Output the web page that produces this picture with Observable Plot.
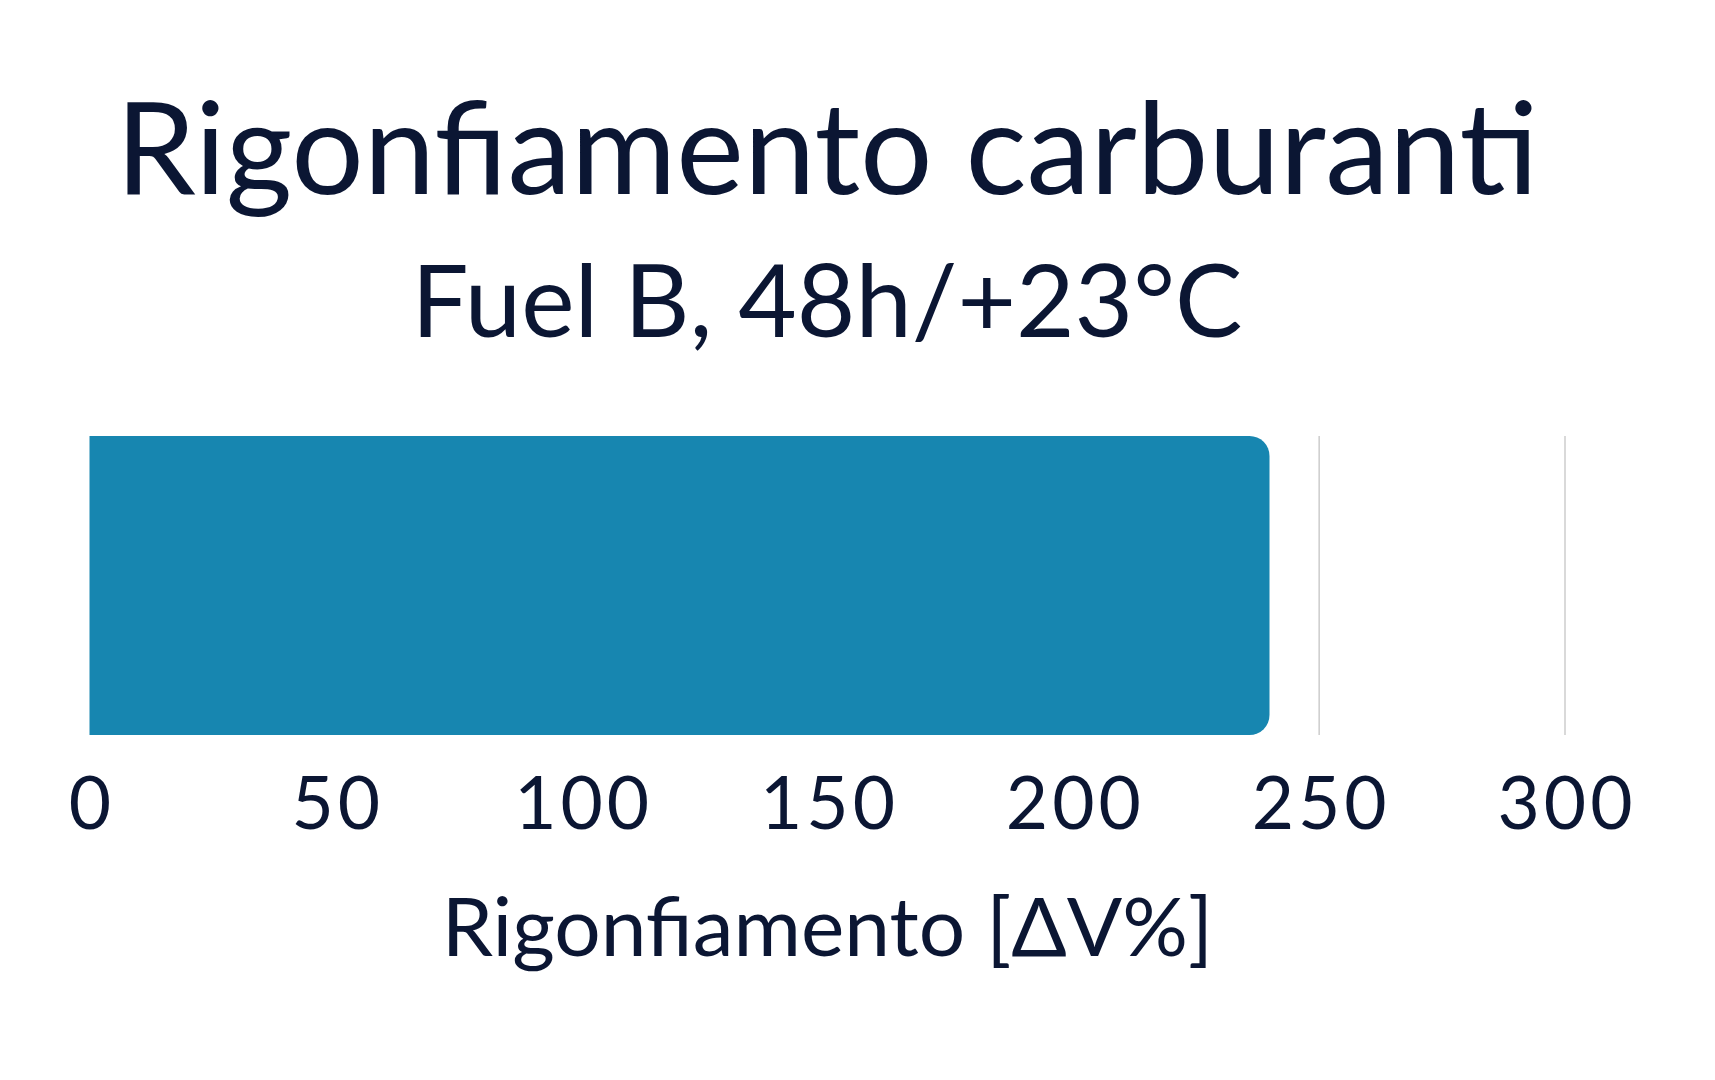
<!DOCTYPE html>
<html><head><meta charset="utf-8">
<script src="https://cdn.jsdelivr.net/npm/d3@7"></script>
<script src="https://cdn.jsdelivr.net/npm/@observablehq/plot@0.6"></script>
<style>
html,body{margin:0;padding:0;background:#fff;}
body{width:1715px;height:1080px;position:relative;overflow:hidden;font-family:Lato,sans-serif;color:#0b1633;}
.t{position:absolute;left:89.5px;width:1475px;text-align:center;white-space:nowrap;line-height:1;margin:0;font-weight:400;}
#title{font-size:128px;top:80.5px;}
#subtitle{font-size:101px;top:247.5px;}
#chart{position:absolute;left:0;top:380px;}
</style></head><body>
<h1 id="title" class="t"></h1>
<h2 id="subtitle" class="t"></h2>
<div id="chart"></div>
<script>
const titleText = "Rigonfiamento carburanti";
const subtitleText = "Fuel B, 48h/+23°C";
const xLabel = "Rigonfiamento [ΔV%]";
const categories = ["Fuel B"];
const values = [240];
const xTicks = [0, 50, 100, 150, 200, 250, 300];

document.getElementById("title").textContent = titleText;
document.getElementById("subtitle").textContent = subtitleText;

const data = categories.map((c, i) => ({category: c, value: values[i]}));

const plot = Plot.plot({
  width: 1715,
  height: 700,
  marginLeft: 89.5,
  marginRight: 150.5,
  marginTop: 56,
  marginBottom: 345,
  style: {fontFamily: "Lato, sans-serif", color: "#0b1633", background: "transparent"},
  x: {domain: [0, 300]},
  y: {domain: categories, padding: 0, axis: null},
  marks: [
    Plot.gridX(xTicks.filter(d => d > 0), {stroke: "#cccccc", strokeOpacity: 1, strokeWidth: 1.5}),
    Plot.barX(data, {x: "value", y: "category", fill: "#1786b0", rx2: 20}),
    Plot.axisX(xTicks, {
      tickSize: 0, tickPadding: 42, fontSize: 73, fill: "#0b1633",
      label: xLabel, labelAnchor: "center", labelArrow: "none", labelOffset: 220
    })
  ]
});
plot.querySelectorAll("text").forEach(t => {
  t.setAttribute("fill", "#0b1633");
  if (t.textContent === xLabel) {
    t.setAttribute("font-size", 82);
  } else if (/^\d+$/.test(t.textContent.trim())) {
    t.style.letterSpacing = "4px";
    t.setAttribute("dx", 2);
  }
});
document.getElementById("chart").appendChild(plot);
</script>
</body></html>
